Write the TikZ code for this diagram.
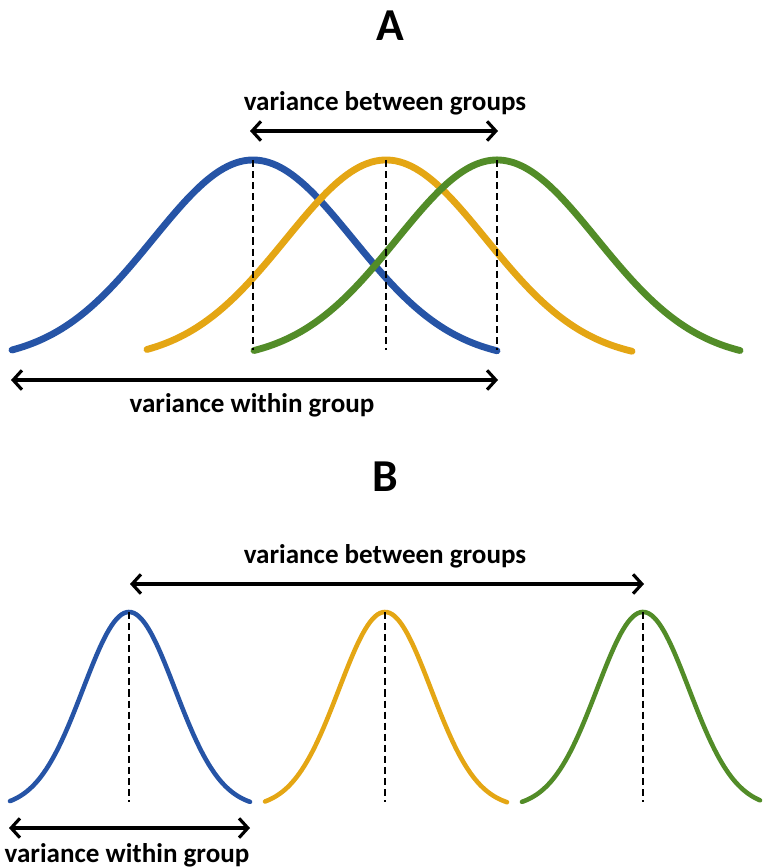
\documentclass[tikz,border=0pt]{standalone}
\usepackage{fontspec}
\setmainfont{Carlito}
\usetikzlibrary{arrows.meta}
\definecolor{cblue}{RGB}{38,84,166}
\definecolor{cgold}{RGB}{228,166,20}
\definecolor{cgreen}{RGB}{82,140,40}
\tikzset{
  thickA/.style={line width=3.9pt},
  thickB/.style={line width=2.6pt},
  meanline/.style={black, line width=1.5pt, dash pattern=on 4pt off 2.3pt},
  dimarrow/.style={black, line width=1.8pt, {Straight Barb[length=5pt,width=11pt,line width=1.8pt]}-{Straight Barb[length=5pt,width=11pt,line width=1.8pt]}},
  ttl/.style={font=\fontsize{26}{30}\selectfont\bfseries, inner sep=0pt},
  lbl/.style={font=\fontsize{15.4}{19}\selectfont\bfseries, inner sep=0pt},
}
\begin{document}
\begin{tikzpicture}[x=0.02cm, y=-0.02cm]
\useasboundingbox (0,0) rectangle (762,868);
% ---------- Panel A ----------
\node[ttl] (tA) at (390,26) {A};
\node[lbl] (bgA) at (385,103) {variance between groups};
\node[lbl] (wgA) at (252,405) {variance within group};
% curves
\draw[cblue, thickA, line cap=round] plot[domain=-241:244, samples=120] ({253+\x}, {361-201*exp(-0.5*(\x/100)^2)});
\draw[cgold, thickA, line cap=round] plot[domain=-239:246, samples=120] ({386+\x}, {361-201*exp(-0.5*(\x/100)^2)});
\draw[cgreen, thickA, line cap=round] plot[domain=0:243, samples=80] ({497-\x}, {361-201*exp(-0.5*(\x/100)^2)});
\draw[cgreen, thickA, line cap=round] plot[domain=0:243, samples=80] ({497+\x}, {361-201*exp(-0.5*(\x/100)^2)});
% means
\coordinate (pA1) at (253,160); \coordinate (bA1) at (253,350);
\coordinate (pA2) at (386,160); \coordinate (bA2) at (386,350);
\coordinate (pA3) at (497,160); \coordinate (bA3) at (497,350);
\draw[meanline] (pA1) -- (bA1);
\draw[meanline] (pA2) -- (bA2);
\draw[meanline] (pA3) -- (bA3);
% arrows
\coordinate (aA1) at (250,131); \coordinate (aA2) at (498,131);
\coordinate (wA1) at (11,380); \coordinate (wA2) at (498,380);
\draw[dimarrow] (aA1) -- (aA2);
\draw[dimarrow] (wA1) -- (wA2);
% ---------- Panel B ----------
\node[ttl] (tB) at (385,477) {B};
\node[lbl] (bgB) at (385,556) {variance between groups};
\node[lbl] (wgB) at (127,855) {variance within group};
\draw[cblue, thickB, line cap=round] plot[domain=-119:121, samples=100] ({129+\x}, {808-196*exp(-0.5*(\x/46)^2)});
\draw[cgold, thickB, line cap=round] plot[domain=-120:122, samples=100] ({385+\x}, {808-196*exp(-0.5*(\x/46)^2)});
\draw[cgreen, thickB, line cap=round] plot[domain=-121:117, samples=100] ({643+\x}, {808-196*exp(-0.5*(\x/46)^2)});
\coordinate (pB1) at (129,612); \coordinate (bB1) at (129,802);
\coordinate (pB2) at (385,612); \coordinate (bB2) at (385,802);
\coordinate (pB3) at (643,612); \coordinate (bB3) at (643,802);
\draw[meanline] (pB1) -- (bB1);
\draw[meanline] (pB2) -- (bB2);
\draw[meanline] (pB3) -- (bB3);
\coordinate (aB1) at (130,584); \coordinate (aB2) at (644,584);
\coordinate (wB1) at (9,828); \coordinate (wB2) at (250,828);
\draw[dimarrow] (aB1) -- (aB2);
\draw[dimarrow] (wB1) -- (wB2);
\end{tikzpicture}
\end{document}
